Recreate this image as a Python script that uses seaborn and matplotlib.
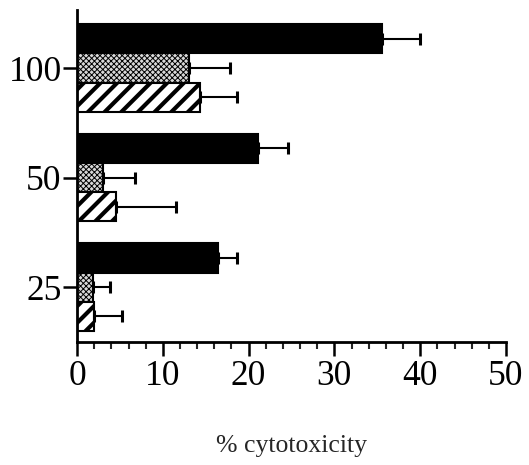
import numpy as np
import pandas as pd
import matplotlib
matplotlib.use("Agg")
import matplotlib.pyplot as plt
import seaborn as sns
from matplotlib.ticker import MultipleLocator

doses = ["100", "50", "25"]
series = ["A", "B", "C"]
values_A = [35.5, 21.1, 16.4]
values_B = [13.1, 3.0, 1.9]
values_C = [14.3, 4.6, 2.0]
errors_A = [4.5, 3.5, 2.2]
errors_B = [4.7, 3.8, 2.0]
errors_C = [4.3, 6.9, 3.3]

sns.set_theme(style="ticks")
plt.rcParams["font.family"] = ["Liberation Serif", "DejaVu Serif"]

rows = []
for s, vals in zip(series, [values_A, values_B, values_C]):
    for d, v in zip(doses, vals):
        rows.append({"dose": d, "series": s, "value": v})
df = pd.DataFrame(rows)
errs = {"A": errors_A, "B": errors_B, "C": errors_C}

fig = plt.figure(figsize=(5.29, 4.65), dpi=100)
ax = fig.add_axes([0.1456, 0.2645, 0.811, 0.714])

sns.barplot(data=df, y="dose", x="value", hue="series", order=doses,
            hue_order=series, orient="h", width=0.8, errorbar=None,
            palette=["black", "white", "white"], edgecolor="black",
            linewidth=1.5, legend=False, ax=ax)

styles = {"A": ("black", "", 1.0), "B": ("#d8d8d8", "xxxxxx", 0.7), "C": ("white", "//", 3.0)}
for container, s in zip(ax.containers, series):
    fc, h, hlw = styles[s]
    centers, widths = [], []
    for p in container.patches:
        p.set_facecolor(fc)
        p.set_hatch(h)
        p.set_edgecolor("black")
        if hasattr(p, "set_hatch_linewidth"):
            p.set_hatch_linewidth(hlw)
        else:
            p._hatch_linewidth = hlw
        centers.append(p.get_y() + p.get_height() / 2)
        widths.append(p.get_width())
    e = np.array(errs[s])
    ax.errorbar(widths, centers, xerr=[np.zeros_like(e), e], fmt="none",
                ecolor="black", elinewidth=1.5, capsize=4, capthick=2.2)

ax.set_xlim(0, 50)
ax.set_ylim(2.5, -0.53)
ax.xaxis.set_major_locator(MultipleLocator(10))
ax.xaxis.set_minor_locator(MultipleLocator(2))
ax.tick_params(axis="x", which="major", length=10, width=1.8, labelsize=25.5, pad=3, colors="black")
ax.tick_params(axis="x", which="minor", length=5, width=1.5)
ax.tick_params(axis="y", length=10, width=1.8, labelsize=25.5, pad=1, colors="black")
ax.set_ylabel("")
ax.set_xlabel("% cytotoxicity", fontsize=18.5, labelpad=30)
for side in ["top", "right"]:
    ax.spines[side].set_visible(False)
for side in ["left", "bottom"]:
    ax.spines[side].set_linewidth(2)
    ax.spines[side].set_color("black")

fig.savefig("out.png", dpi=100)
